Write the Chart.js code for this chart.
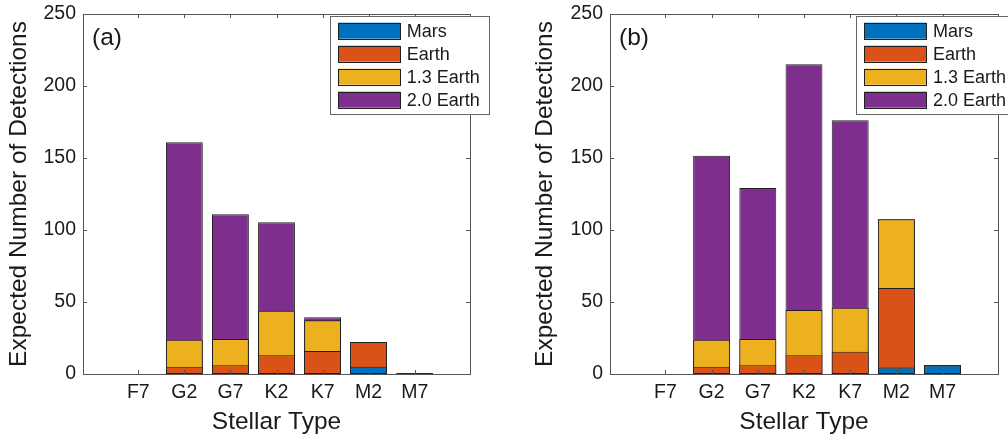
<!DOCTYPE html>
<html>
<head>
<meta charset="utf-8">
<script src="https://cdn.jsdelivr.net/npm/chart.js@4"></script>
<style>
  body { margin: 0; background: #fff; }
  .panel { position: absolute; top: 0; height: 441px; }
  #wrapA { left: 0; width: 500px; }
  #wrapB { left: 500px; width: 508px; }
</style>
</head>
<body>
<div class="panel" id="wrapA"><canvas id="panelA"></canvas></div>
<div class="panel" id="wrapB"><canvas id="panelB"></canvas></div>
<script>
var categories = ["F7", "G2", "G7", "K2", "K7", "M2", "M7"];
var yTicks = [0, 50, 100, 150, 200, 250];
var seriesNames = ["Mars", "Earth", "1.3 Earth", "2.0 Earth"];
var seriesColors = ["#0072BD", "#D95319", "#EDB120", "#7E2F8E"];

// panel (a)
var marsA    = [0, 0, 0, 0, 0.4, 5.1, 0.4];
var earthA   = [0, 5.1, 6, 13, 16, 22.2, 0.5];
var earth13A = [0, 23.8, 24.3, 44, 37.3, 22.2, 0.5];
var earth20A = [0, 161, 111, 105.3, 39.4, 22.2, 0.5];

// panel (b)
var marsB    = [0, 0, 0, 0, 0.4, 4.6, 6];
var earthB   = [0, 5.1, 6, 13, 15.5, 59.7, 6];
var earth13B = [0, 23.8, 24.3, 44.5, 46, 107.4, 6];
var earth20B = [0, 151.6, 129.2, 215.1, 176.2, 107.4, 6];

Chart.defaults.font.family = "'Liberation Sans', Arial, Helvetica, sans-serif";
Chart.defaults.color = "#1a1a1a";

var framePlugin = {
  id: 'frame',
  afterDatasetsDraw: function(chart, args, opts) {
    var ctx = chart.ctx, a = chart.chartArea;
    var x = chart.scales.x, y = chart.scales.y;
    ctx.save();
    ctx.strokeStyle = '#555';
    ctx.lineWidth = 1;
    ctx.beginPath();
    yTicks.forEach(function(v) {
      var py = Math.round(y.getPixelForValue(v)) + 0.5;
      ctx.moveTo(a.left, py); ctx.lineTo(a.left + 4, py);
      ctx.moveTo(a.right, py); ctx.lineTo(a.right - 4, py);
    });
    categories.forEach(function(c, i) {
      var px = Math.round(x.getPixelForValue(i)) + 0.5;
      ctx.moveTo(px, a.bottom); ctx.lineTo(px, a.bottom - 4);
      ctx.moveTo(px, a.top); ctx.lineTo(px, a.top + 4);
    });
    ctx.stroke();
    ctx.strokeRect(Math.round(a.left) + 0.5, Math.round(a.top) + 0.5,
                   Math.round(a.right - a.left), Math.round(a.bottom - a.top));

    // legend box
    var lx = a.right - opts.legendRight, ly = a.top + 2;
    ctx.fillStyle = '#fff';
    ctx.fillRect(lx, ly, 159, 98);
    ctx.strokeStyle = '#666';
    ctx.strokeRect(Math.round(lx) + 0.5, Math.round(ly) + 0.5, 159, 98);
    ctx.font = "18px 'Liberation Sans', Arial, sans-serif";
    ctx.textBaseline = 'middle';
    ctx.textAlign = 'left';
    chart.data.datasets.forEach(function(ds, i) {
      var cy = ly + 14.7 + 23 * i;
      ctx.fillStyle = ds.backgroundColor;
      ctx.fillRect(lx + 8, cy - 8, 62, 16);
      ctx.strokeStyle = '#1f1f1f';
      ctx.strokeRect(Math.round(lx + 8) + 0.5, Math.round(cy - 8) + 0.5, 62, 16);
      ctx.fillStyle = '#1a1a1a';
      ctx.fillText(ds.label, lx + 76.7, cy + 1);
    });

    // panel letter
    ctx.font = "24.5px 'Liberation Sans', Arial, sans-serif";
    ctx.fillText(opts.letter, a.left + 9, a.top + 24);
    ctx.restore();
  }
};

function makePanel(id, letter, values, padLeft, padRight, yWidth, legendRight) {
  var datasets = values.map(function(arr, k) {
    return {
      label: seriesNames[k],
      data: arr.map(function(v, i) { return { x: i, y: v }; }),
      backgroundColor: seriesColors[k],
      borderColor: '#1f1f1f',
      borderWidth: 1,
      borderSkipped: false
    };
  });
  return new Chart(document.getElementById(id).getContext('2d'), {
    type: 'bar',
    data: { datasets: datasets },
    plugins: [framePlugin],
    options: {
      responsive: true,
      maintainAspectRatio: false,
      animation: false,
      grouped: false,
      barPercentage: 0.8,
      categoryPercentage: 1,
      layout: { padding: { left: padLeft, right: padRight, top: 14, bottom: 0 } },
      plugins: {
        legend: { display: false },
        tooltip: { enabled: false },
        frame: { letter: letter, legendRight: legendRight }
      },
      scales: {
        x: {
          type: 'linear',
          min: -1.2,
          max: 7.2,
          offset: false,
          afterBuildTicks: function(s) { s.ticks = categories.map(function(c, i) { return { value: i }; }); },
          ticks: {
            callback: function(v) { return categories[v]; },
            font: { size: 19.5 },
            padding: 7,
            maxRotation: 0,
            autoSkip: false
          },
          grid: { display: false, drawTicks: false, offset: false },
          border: { display: false },
          title: { display: true, text: 'Stellar Type', font: { size: 24.5 }, padding: { top: 0, bottom: 3.6 } },
          afterFit: function(s) { s.height = 67; s.paddingLeft = 0; s.paddingRight = 0; }
        },
        y: {
          min: 0,
          max: 250,
          afterBuildTicks: function(s) { s.ticks = yTicks.map(function(v) { return { value: v }; }); },
          ticks: { font: { size: 19.5 }, padding: 7 },
          grid: { display: false, drawTicks: false },
          border: { display: false },
          title: { display: true, text: 'Expected Number of Detections', font: { size: 24.5 }, padding: { top: 4.3, bottom: 0 } },
          afterFit: function(s) { s.width = yWidth; s.paddingTop = 0; s.paddingBottom = 0; }
        }
      }
    }
  });
}

makePanel('panelA', '(a)', [marsA, earthA, earth13A, earth20A], 0, 30, 83, 140);
makePanel('panelB', '(b)', [marsB, earthB, earth13B, earth20B], 26, 10, 84, 141.7);
</script>
</body>
</html>
